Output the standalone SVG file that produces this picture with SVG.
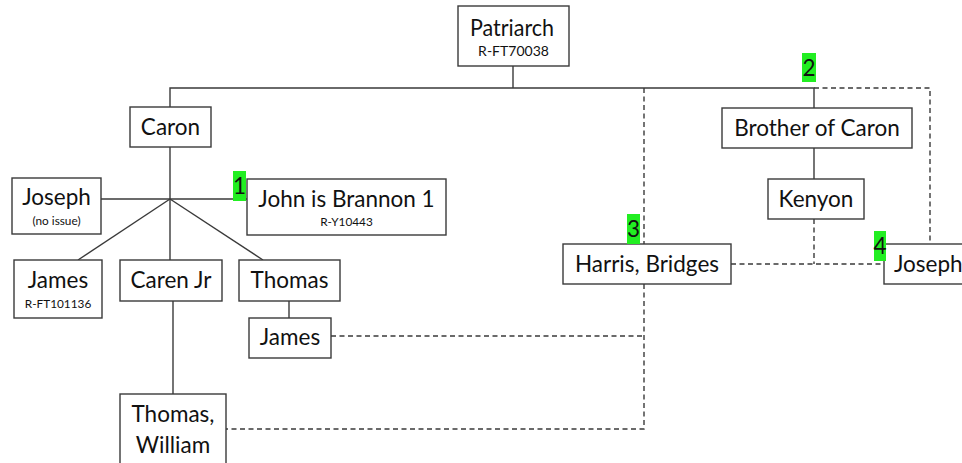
<svg xmlns="http://www.w3.org/2000/svg" width="962" height="463" viewBox="0 0 962 463">
<style>
.box{fill:#fff;stroke:#3a3a3a;stroke-width:1.4}
.ln{fill:none;stroke:#3a3a3a;stroke-width:1.4}
.dash{fill:none;stroke:#3a3a3a;stroke-width:1.4;stroke-dasharray:5 3.5}
.t{font-family:Lato,"Liberation Sans",sans-serif;font-size:22.5px;fill:#111;text-anchor:middle}
.s{font-family:Lato,"Liberation Sans",sans-serif;font-size:14px;fill:#111;text-anchor:middle}
.xs{font-family:Lato,"Liberation Sans",sans-serif;font-size:11.8px;fill:#111;text-anchor:middle}
.gbg{fill:#22ee22}
.g{font-family:Lato,"Liberation Sans",sans-serif;font-size:22.5px;fill:#111;text-anchor:middle}
</style>
<rect width="962" height="463" fill="#fff"/>
<g id="connectors">
<polyline class="ln" points="513,66 513,88"/>
<polyline class="ln" points="170,107 170,88 814,88 814,108"/>
<polyline class="dash" points="814,88 930,88 930,244"/>
<polyline class="dash" points="644,88 644,244"/>
<polyline class="dash" points="644,284 644,429 226,429"/>
<polyline class="dash" points="331,336 644,336"/>
<polyline class="ln" points="170,147 170,260"/>
<polyline class="ln" points="101,199 247,199"/>
<polyline class="ln" points="170,199 78,260"/>
<polyline class="ln" points="170,199 263,260"/>
<polyline class="ln" points="289,301 289,318"/>
<polyline class="ln" points="173,301 173,394"/>
<polyline class="ln" points="814,148 814,179"/>
<polyline class="dash" points="814,219 814,264"/>
<polyline class="dash" points="731,264 884,264"/>
</g>
<g id="patriarch"><rect class="box" x="458" y="6" width="111" height="60"/><text class="t" x="512" y="36" textLength="84" lengthAdjust="spacingAndGlyphs">Patriarch</text><text class="s" x="513.5" y="56">R-FT70038</text></g>
<g id="caron"><rect class="box" x="130" y="107" width="81" height="40"/><text class="t" x="170.5" y="135">Caron</text></g>
<g id="joseph1"><rect class="box" x="12" y="178" width="89" height="56"/><text class="t" x="56.5" y="205">Joseph</text><text class="xs" x="56.5" y="225">(no issue)</text></g>
<g id="john"><rect class="box" x="247" y="179" width="199" height="56"/><text class="t" x="346.5" y="207">John is Brannon 1</text><text class="xs" x="346.5" y="226">R-Y10443</text></g>
<g id="label1"><rect class="gbg" x="233" y="171" width="13" height="30"/><text class="g" x="239.5" y="194">1</text></g>
<g id="james1"><rect class="box" x="14" y="260" width="88" height="58"/><text class="t" x="58" y="288">James</text><text class="xs" x="58" y="308">R-FT101136</text></g>
<g id="carenjr"><rect class="box" x="120" y="260" width="102" height="41"/><text class="t" x="171" y="288">Caren Jr</text></g>
<g id="thomas"><rect class="box" x="239" y="260" width="101" height="41"/><text class="t" x="289.5" y="288">Thomas</text></g>
<g id="james2"><rect class="box" x="249" y="318" width="82" height="40"/><text class="t" x="290" y="345">James</text></g>
<g id="thomaswilliam"><rect class="box" x="120" y="394" width="106" height="80"/><text class="t" x="173" y="422">Thomas,</text><text class="t" x="173" y="453">William</text></g>
<g id="brother"><rect class="box" x="722" y="108" width="190" height="40"/><text class="t" x="817" y="136">Brother of Caron</text></g>
<g id="label2"><rect class="gbg" x="802" y="53" width="14" height="29"/><text class="g" x="809" y="76">2</text></g>
<g id="kenyon"><rect class="box" x="768" y="179" width="96" height="40"/><text class="t" x="816" y="207">Kenyon</text></g>
<g id="harris"><rect class="box" x="563" y="244" width="168" height="40"/><text class="t" x="647" y="272">Harris, Bridges</text></g>
<g id="label3"><rect class="gbg" x="627" y="214" width="13" height="30"/><text class="g" x="633.5" y="237">3</text></g>
<g id="joseph2"><rect class="box" x="884" y="244" width="90" height="40"/><text class="t" x="894" y="272" style="text-anchor:start">Joseph</text></g>
<g id="label4"><rect class="gbg" x="874" y="231" width="12" height="30"/><text class="g" x="880" y="254">4</text></g>
</svg>
